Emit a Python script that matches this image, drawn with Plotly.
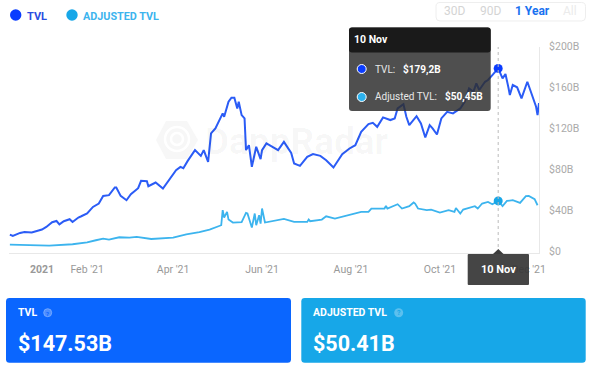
import pandas as pd
import plotly.graph_objects as go

W, H = 589, 373
START = pd.Timestamp("2021-01-01")

# days after 1 Jan 2021, value in $B
TVL_DAYS = [-22,-20,-15,-12,-7,0,3,7,10,12,15,19,21,25,27,31,35,39,42,46,50,51,54,58,61,63,66,68,72,73,78,83,87,92,95,97,100,105,109,111,114,116,119,124,125,128,130,132,134,135,137,139,140,142,144,147,150,151,154,159,162,166,170,171,173,177,182,186,191,195,200,206,211,215,219,224,227,230,234,239,242,244,248,250,252,257,260,263,266,268,271,274,278,282,287,290,293,296,298,300,304,306,309,313,316,318,320,321,323,326,329,333,335,339,340,341]
TVL_VALUES = [17.7,16.4,19.3,20.2,19.7,22.6,25.1,29.7,30.9,27.7,30.7,32.6,30,34.3,35.5,38.2,44.6,47.9,55.3,56,63.5,63.5,55.3,51.1,56.9,59.2,62.8,69.9,69.6,64.7,68.3,62.5,70.6,80.3,83.5,82.2,89.3,99.8,94.2,99.8,88.4,116,120.9,135.5,132.2,146.8,150.7,150.7,140.3,146.8,133.8,130.6,99.8,104.6,83.5,103,91,99.8,106.3,102.4,99.8,107.8,98.1,97.1,86.8,84.5,93.2,95.9,94.2,90,82.9,95.9,101.4,104.6,117.6,125.1,126.3,122.4,131.6,129,130.6,140.3,144.5,132.2,124.1,132.8,125.7,112.1,124.1,120.9,115,130.6,137,135.5,140.3,146.8,159.8,156.5,164.7,158.2,166.2,167.9,172.7,179.2,169.5,173.7,160.8,153.3,163,160.8,150.1,166.2,158.2,141.9,133.8,145.5]
ADJ_DAYS = [-22,-8,5,21,31,37,42,46,53,60,65,75,90,99,108,115,123,124,125,127,128,131,137,140,141,144,146,147,149,150,151,153,166,173,177,182,183,184,192,195,201,211,219,224,226,235,236,237,244,247,252,255,256,258,264,267,273,279,283,284,287,289,297,299,302,306,309,313,316,319,323,328,332,334,338,340]
ADJ_VALUES = [8,7.3,7,8.3,10.2,12.2,13.8,12.8,15.1,14.8,15.4,13.4,14.8,18,20,22.6,26.8,41.4,34.3,39.7,32.3,29.4,29.7,38.7,38.2,24.5,38.2,26.8,36.5,28.4,43,29.4,32.9,30,30,30,32.3,30.7,32.3,35.5,33.3,36.5,39.7,39.7,43,43,45.5,43,47.2,43,45.3,48.9,47.9,43,41.4,42,39.1,41.4,39.7,43.6,38.2,42,45.3,43,47.9,49.4,47.2,50.45,45.3,50.4,51.1,48.5,55,55.3,52.1,46.2]
HOVER_DATE = "2021-11-10"
HOVER_TVL = 179.2
HOVER_ADJ = 50.45
Y_TICKS = [0, 40, 80, 120, 160, 200]
Y_LABELS = ["$0", "$40B", "$80B", "$120B", "$160B", "$200B"]
X_TICKS = ["2021-01-01", "2021-02-01", "2021-04-01", "2021-06-01", "2021-08-01", "2021-10-01", "2021-12-01"]
X_LABELS = ["<b>2021</b>", "Feb '21", "Apr '21", "Jun '21", "Aug '21", "Oct '21", "Dec '21"]

BLUE = "#2b5cf6"
CYAN = "#3cb4ee"
CARD_BLUE = "#0a66ff"
CARD_CYAN = "#17a7e8"
FONT = "Roboto"


def to_dates(days):
    return [START + pd.Timedelta(days=d) for d in days]


def X(p):
    return p / W


def Y(p):
    return 1 - p / H


shapes, notes = [], []


def text(x, y, s, size=11, color="#fff", anchor="left", bold=False, font=FONT):
    notes.append(dict(xref="paper", yref="paper", x=X(x), y=Y(y), text=f"<b>{s}</b>" if bold else s,
                      showarrow=False, xanchor=anchor, yanchor="middle",
                      font=dict(family=font, size=size, color=color), borderpad=0, borderwidth=0))


def circle(cx, cy, r, fill, line="rgba(0,0,0,0)", lw=0, layer="above"):
    shapes.append(dict(type="circle", xref="paper", yref="paper", x0=X(cx - r), x1=X(cx + r),
                       y0=Y(cy + r), y1=Y(cy - r), fillcolor=fill, line=dict(color=line, width=lw), layer=layer))


def rrect(x0, y0, x1, y1, r, fill, line="rgba(0,0,0,0)", lw=0, layer="above"):
    def p(a, b):
        return f"{X(a):.5f},{Y(b):.5f}"
    path = (f"M{p(x0 + r, y0)} L{p(x1 - r, y0)} Q{p(x1, y0)} {p(x1, y0 + r)} L{p(x1, y1 - r)} "
            f"Q{p(x1, y1)} {p(x1 - r, y1)} L{p(x0 + r, y1)} Q{p(x0, y1)} {p(x0, y1 - r)} "
            f"L{p(x0, y0 + r)} Q{p(x0, y0)} {p(x0 + r, y0)} Z")
    shapes.append(dict(type="path", xref="paper", yref="paper", path=path, fillcolor=fill,
                       line=dict(color=line, width=lw), layer=layer))


# watermark
hexp = [(156, 140), (166, 121), (187, 121), (198, 140), (187, 159), (166, 159)]
shapes.append(dict(type="path", xref="paper", yref="paper", layer="below",
                   path="M" + " L".join(f"{X(a):.5f},{Y(b):.5f}" for a, b in hexp) + " Z",
                   fillcolor="#f7f7f7", line=dict(width=0)))
circle(177, 139, 12, "rgba(0,0,0,0)", "#ffffff", 2.5, "below")
circle(177, 139, 6, "rgba(0,0,0,0)", "#ffffff", 2.5, "below")
text(205, 141, "DappRadar", 37, "rgba(0,0,0,0.035)", bold=True)

# legend
circle(15.7, 15, 5.7, "#0a3cff")
text(27, 16, "TVL", 11, "#2a4de0", bold=True)
circle(72, 15, 5.7, CARD_CYAN)
text(83, 16, "ADJUSTED TVL", 10.8, "#3cb4ee", bold=True)

# range buttons
rrect(436, 2.5, 585.5, 21, 4, "#ffffff", "#eeeeee", 1)
text(454.5, 11, "30D", 12, "#d4d4d4", "center")
text(490, 11, "90D", 12, "#d4d4d4", "center")
text(532, 11, "1 Year", 12, "#1a72f0", "center", True)
text(570, 11, "All", 12, "#ebebeb", "center")

# crosshair
shapes.append(dict(type="line", xref="x", yref="paper", x0=HOVER_DATE, x1=HOVER_DATE, y0=Y(253), y1=Y(47),
                   line=dict(color="#bbbbbb", width=1, dash="dot"), layer="above"))

# tooltip
rrect(349, 27.5, 490.7, 111, 3, "rgba(45,45,45,0.84)")
rrect(349, 27.5, 490.7, 52.5, 3, "#1a1a1a")
text(354, 40, "10 Nov", 10.5, "#ffffff", bold=True)
circle(361.7, 69, 4.5, "#0a3cff", "#ffffff", 1)
text(375, 69, "TVL:", 10, "#e8e8e8")
text(403, 69, "$179,2B", 10, "#ffffff", bold=True)
circle(361.7, 97, 4.5, "#2cb2ef", "#ffffff", 1)
text(375, 97, "Adjusted TVL:", 10, "#e8e8e8")
text(444.5, 97, "$50,45B", 10, "#ffffff", bold=True)

# date tag
rrect(467.7, 254, 529, 285, 1, "rgba(55,55,55,0.93)")
shapes.append(dict(type="path", xref="paper", yref="paper", layer="above", line=dict(width=0),
                   fillcolor="#3c3c3c",
                   path=f"M{X(493):.5f},{Y(254):.5f} L{X(498.3):.5f},{Y(249):.5f} L{X(503.5):.5f},{Y(254):.5f} Z"))
text(498.5, 269.5, "10 Nov", 11, "#ffffff", "center", True)

# cards
rrect(6, 298, 291, 362.7, 3.5, CARD_BLUE)
text(18, 312.5, "TVL", 10.5, "#ffffff", bold=True)
circle(47.7, 312.7, 4, "#4f8fff", "#7fb0ff", 0.8)
text(47.7, 313, "?", 6, "#0a66ff", "center", True)
text(18, 343, "$147.53B", 21.5, "#ffffff", bold=True)
rrect(301.3, 298, 585.7, 362.7, 3.5, CARD_CYAN)
text(312.7, 312.5, "ADJUSTED TVL", 10.5, "#ffffff", bold=True)
circle(398.7, 312.7, 4.5, "#5cc0ee")
text(398.7, 313, "?", 7, "#17a7e8", "center", True)
text(312.7, 343, "$50.41B", 21.5, "#ffffff", bold=True)

fig = go.Figure()
fig.add_trace(go.Scatter(x=to_dates(TVL_DAYS), y=TVL_VALUES, mode="lines", line=dict(color=BLUE, width=2),
                         hoverinfo="skip", showlegend=False))
fig.add_trace(go.Scatter(x=to_dates(ADJ_DAYS), y=ADJ_VALUES, mode="lines", line=dict(color=CYAN, width=1.8),
                         hoverinfo="skip", showlegend=False))
fig.add_trace(go.Scatter(x=[HOVER_DATE], y=[HOVER_TVL], mode="markers", marker=dict(size=9, color="#0a3cff"),
                         hoverinfo="skip", showlegend=False))
fig.add_trace(go.Scatter(x=[HOVER_DATE], y=[HOVER_ADJ], mode="markers", marker=dict(size=9, color=CARD_CYAN),
                         hoverinfo="skip", showlegend=False))

fig.update_layout(
    width=W, height=H, margin=dict(l=0, r=0, t=0, b=0), paper_bgcolor="#ffffff", plot_bgcolor="#ffffff",
    shapes=shapes, annotations=notes, showlegend=False, font=dict(family=FONT),
    xaxis=dict(domain=[X(9), X(539)], range=[START - pd.Timedelta(days=22.6), START + pd.Timedelta(days=341)],
               type="date", tickmode="array", tickvals=X_TICKS, ticktext=X_LABELS, showgrid=False, zeroline=False,
               automargin=False,
               showline=True, linecolor="#e8e8e8", linewidth=1, ticks="", ticklabelstandoff=7,
               tickfont=dict(size=10.5, color="#999999", family=FONT), tickangle=0),
    yaxis=dict(domain=[Y(252.8), Y(47)], range=[0, 200], side="right", tickmode="array", tickvals=Y_TICKS,
               ticktext=Y_LABELS, showgrid=False, zeroline=False, showline=True, linecolor="#e8e8e8", linewidth=1,
               automargin=False, ticklabelshift=-1,
               ticks="", ticklabelstandoff=7, tickfont=dict(size=10.5, color="#aaaaaa", family=FONT)),
)
fig.write_html("out.html", config=dict(displayModeBar=False),
               post_script="document.documentElement.style.overflow='hidden';document.body.style.margin='0';document.body.style.overflow='hidden';")
